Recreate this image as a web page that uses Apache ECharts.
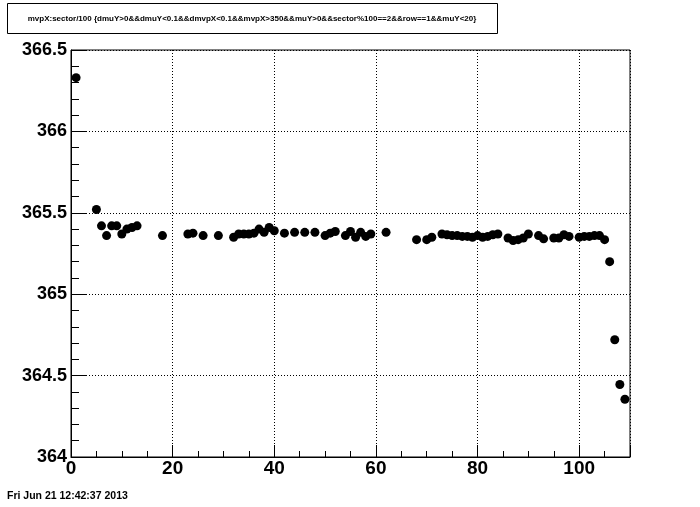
<!DOCTYPE html>
<html>
<head>
<meta charset="utf-8">
<script src="https://cdn.jsdelivr.net/npm/echarts@6/dist/echarts.min.js"></script>
<style>
html,body{margin:0;padding:0;background:#fff;}
#chart{width:700px;height:507px;}
</style>
</head>
<body>
<div id="chart"></div>
<script>
const titleText = "mvpX:sector/100 {dmuY>0&&dmuY<0.1&&dmvpX<0.1&&mvpX>350&&muY>0&&sector%100==2&&row==1&&muY<20}";
const dateText = "Fri Jun 21 12:42:37 2013";

const xValues = [1,5,6,7,8,9,10,11,12,13,18,23,24,26,29,32,33,34,35,36,37,38,39,40,42,44,46,48,50,51,52,54,55,56,57,58,59,62,68,70,71,73,74,75,76,77,78,79,80,81,82,83,84,86,87,88,89,90,92,93,95,96,97,98,100,101,102,103,104,105,106,107,108,109];
const yValues = [366.33,365.52,365.42,365.36,365.42,365.42,365.37,365.40,365.41,365.42,365.36,365.37,365.375,365.36,365.36,365.35,365.37,365.37,365.37,365.375,365.40,365.38,365.41,365.39,365.375,365.38,365.38,365.38,365.36,365.375,365.385,365.36,365.385,365.35,365.38,365.355,365.37,365.38,365.335,365.335,365.35,365.37,365.365,365.36,365.36,365.355,365.355,365.35,365.36,365.35,365.355,365.365,365.37,365.345,365.33,365.335,365.345,365.37,365.36,365.34,365.345,365.345,365.365,365.355,365.35,365.355,365.355,365.36,365.36,365.335,365.20,364.72,364.445,364.355];

const xTickLabels = [0,20,40,60,80,100];
const yTickLabels = [364,364.5,365,365.5,366,366.5];

const points = xValues.map((x,i)=>[x,yValues[i]]);

const labelFont = "'Liberation Sans',Arial,sans-serif";
const gridBox = {left:71, top:50, right:70, bottom:50};
const dotted = {color:'#000', width:1, type:[1,2]};

const chart = echarts.init(document.getElementById('chart'), null, {renderer:'canvas'});
chart.setOption({
  animation:false,
  backgroundColor:'#fff',
  grid:[
    Object.assign({show:true, borderColor:'#000', borderWidth:1, backgroundColor:'transparent', containLabel:false}, gridBox),
    Object.assign({show:false, containLabel:false}, gridBox)
  ],
  xAxis:[
    {type:'value', gridIndex:0, min:0, max:110, interval:20,
     axisLine:{show:true, onZero:false, lineStyle:{color:'#000', width:1}},
     axisTick:{show:true, inside:true, length:12, lineStyle:{color:'#000', width:1}},
     axisLabel:{show:true, margin:2, color:'#000', fontFamily:labelFont, fontWeight:'bold', fontSize:19,
       formatter:v=> xTickLabels.indexOf(v)>=0 ? String(v) : ''},
     splitLine:{show:true, lineStyle:dotted}},
    {type:'value', gridIndex:1, min:0, max:110, interval:5,
     axisLine:{show:false, onZero:false},
     axisTick:{show:true, inside:true, length:6, lineStyle:{color:'#000', width:1}},
     axisLabel:{show:false}, splitLine:{show:false}}
  ],
  yAxis:[
    {type:'value', gridIndex:0, min:364, max:366.5, interval:0.5,
     axisLine:{show:true, onZero:false, lineStyle:{color:'#000', width:1}},
     axisTick:{show:true, inside:true, length:15, lineStyle:{color:'#000', width:1}},
     minorTick:{show:true, splitNumber:5, length:8, lineStyle:{color:'#000', width:1}},
     axisLabel:{show:true, margin:4, color:'#000', fontFamily:labelFont, fontWeight:'bold', fontSize:18,
       formatter:v=> yTickLabels.indexOf(v)>=0 ? String(v) : ''},
     splitLine:{show:true, lineStyle:dotted}},
    {type:'value', gridIndex:1, min:364, max:366.5, show:false}
  ],
  series:[
    {type:'scatter', xAxisIndex:0, yAxisIndex:0, data:points, symbol:'circle', symbolSize:9,
     itemStyle:{color:'#000', opacity:1}, silent:true}
  ],
  graphic:[
    {type:'rect', shape:{x:7.5, y:3.5, width:490, height:30}, style:{fill:'#fff', stroke:'#000', lineWidth:1}, z:10},
    {type:'text', x:252, y:19, z:11, style:{text:titleText, fill:'#000', font:"bold 8px 'Liberation Sans',Arial,sans-serif", textAlign:'center', textVerticalAlign:'middle'}},
    {type:'text', x:7, y:496, z:11, style:{text:dateText, fill:'#000', font:"bold 10.5px 'Liberation Sans',Arial,sans-serif", textAlign:'left', textVerticalAlign:'middle'}}
  ]
});
</script>
</body>
</html>
